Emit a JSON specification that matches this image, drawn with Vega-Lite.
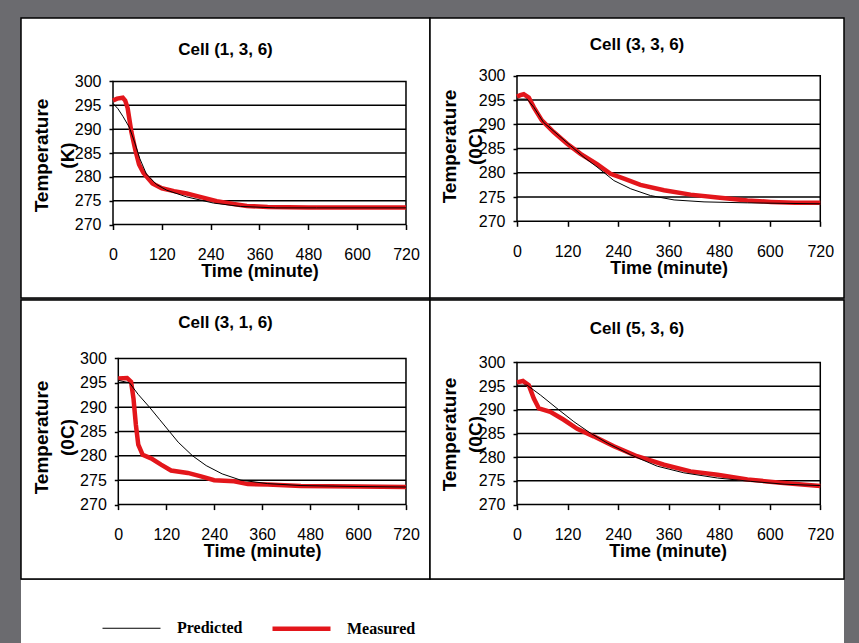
{
  "$schema": "https://vega.github.io/schema/vega-lite/v6.json",
  "background": "#6b6b6f",
  "padding": {"left": 20, "top": 17, "right": 16, "bottom": 0},
  "spacing": 0,
  "datasets": {
    "grid": [{"g": 275}, {"g": 280}, {"g": 285}, {"g": 290}, {"g": 295}],
    "curves": [
      {"p": "a", "s": "Measured", "t": 0, "T": 296.0},
      {"p": "a", "s": "Measured", "t": 10, "T": 296.4},
      {"p": "a", "s": "Measured", "t": 24, "T": 296.6},
      {"p": "a", "s": "Measured", "t": 30, "T": 296.0},
      {"p": "a", "s": "Measured", "t": 36, "T": 294.4},
      {"p": "a", "s": "Measured", "t": 45, "T": 289.5},
      {"p": "a", "s": "Measured", "t": 55, "T": 285.6},
      {"p": "a", "s": "Measured", "t": 64, "T": 282.6},
      {"p": "a", "s": "Measured", "t": 75, "T": 280.8},
      {"p": "a", "s": "Measured", "t": 97, "T": 278.6},
      {"p": "a", "s": "Measured", "t": 120, "T": 277.6},
      {"p": "a", "s": "Measured", "t": 150, "T": 277.0},
      {"p": "a", "s": "Measured", "t": 181, "T": 276.5},
      {"p": "a", "s": "Measured", "t": 214, "T": 275.8},
      {"p": "a", "s": "Measured", "t": 255, "T": 274.9},
      {"p": "a", "s": "Measured", "t": 296, "T": 274.3},
      {"p": "a", "s": "Measured", "t": 329, "T": 273.9},
      {"p": "a", "s": "Measured", "t": 380, "T": 273.7},
      {"p": "a", "s": "Measured", "t": 480, "T": 273.6},
      {"p": "a", "s": "Measured", "t": 600, "T": 273.6},
      {"p": "a", "s": "Measured", "t": 720, "T": 273.6},
      {"p": "a", "s": "Predicted", "t": 0, "T": 295.4},
      {"p": "a", "s": "Predicted", "t": 12, "T": 294.3},
      {"p": "a", "s": "Predicted", "t": 25, "T": 292.6},
      {"p": "a", "s": "Predicted", "t": 40, "T": 290.4},
      {"p": "a", "s": "Predicted", "t": 53, "T": 287.3},
      {"p": "a", "s": "Predicted", "t": 66, "T": 283.8},
      {"p": "a", "s": "Predicted", "t": 82, "T": 280.6},
      {"p": "a", "s": "Predicted", "t": 107, "T": 278.4},
      {"p": "a", "s": "Predicted", "t": 132, "T": 277.2},
      {"p": "a", "s": "Predicted", "t": 181, "T": 275.8},
      {"p": "a", "s": "Predicted", "t": 247, "T": 274.5},
      {"p": "a", "s": "Predicted", "t": 313, "T": 273.8},
      {"p": "a", "s": "Predicted", "t": 400, "T": 273.5},
      {"p": "a", "s": "Predicted", "t": 500, "T": 273.5},
      {"p": "a", "s": "Predicted", "t": 720, "T": 273.5},
      {"p": "b", "s": "Measured", "t": 0, "T": 295.7},
      {"p": "b", "s": "Measured", "t": 8, "T": 296.0},
      {"p": "b", "s": "Measured", "t": 16, "T": 296.2},
      {"p": "b", "s": "Measured", "t": 28, "T": 295.5},
      {"p": "b", "s": "Measured", "t": 40, "T": 293.5},
      {"p": "b", "s": "Measured", "t": 59, "T": 290.8},
      {"p": "b", "s": "Measured", "t": 87, "T": 288.4},
      {"p": "b", "s": "Measured", "t": 119, "T": 286.0},
      {"p": "b", "s": "Measured", "t": 151, "T": 283.9},
      {"p": "b", "s": "Measured", "t": 190, "T": 281.8},
      {"p": "b", "s": "Measured", "t": 222, "T": 279.8},
      {"p": "b", "s": "Measured", "t": 254, "T": 278.8},
      {"p": "b", "s": "Measured", "t": 293, "T": 277.5},
      {"p": "b", "s": "Measured", "t": 349, "T": 276.4},
      {"p": "b", "s": "Measured", "t": 412, "T": 275.5},
      {"p": "b", "s": "Measured", "t": 476, "T": 274.9},
      {"p": "b", "s": "Measured", "t": 547, "T": 274.3},
      {"p": "b", "s": "Measured", "t": 603, "T": 274.0},
      {"p": "b", "s": "Measured", "t": 660, "T": 273.8},
      {"p": "b", "s": "Measured", "t": 720, "T": 273.8},
      {"p": "b", "s": "Predicted", "t": 0, "T": 295.2},
      {"p": "b", "s": "Predicted", "t": 24, "T": 295.2},
      {"p": "b", "s": "Predicted", "t": 40, "T": 293.5},
      {"p": "b", "s": "Predicted", "t": 63, "T": 290.4},
      {"p": "b", "s": "Predicted", "t": 95, "T": 288.0},
      {"p": "b", "s": "Predicted", "t": 127, "T": 285.6},
      {"p": "b", "s": "Predicted", "t": 159, "T": 283.2},
      {"p": "b", "s": "Predicted", "t": 190, "T": 281.2},
      {"p": "b", "s": "Predicted", "t": 230, "T": 278.4},
      {"p": "b", "s": "Predicted", "t": 270, "T": 276.7},
      {"p": "b", "s": "Predicted", "t": 317, "T": 275.3},
      {"p": "b", "s": "Predicted", "t": 373, "T": 274.4},
      {"p": "b", "s": "Predicted", "t": 444, "T": 274.0},
      {"p": "b", "s": "Predicted", "t": 547, "T": 273.8},
      {"p": "b", "s": "Predicted", "t": 720, "T": 273.6},
      {"p": "c", "s": "Measured", "t": 0, "T": 295.9},
      {"p": "c", "s": "Measured", "t": 22, "T": 296.0},
      {"p": "c", "s": "Measured", "t": 32, "T": 295.2},
      {"p": "c", "s": "Measured", "t": 38, "T": 291.8},
      {"p": "c", "s": "Measured", "t": 44, "T": 286.4},
      {"p": "c", "s": "Measured", "t": 50, "T": 282.3},
      {"p": "c", "s": "Measured", "t": 61, "T": 280.2},
      {"p": "c", "s": "Measured", "t": 82, "T": 279.5},
      {"p": "c", "s": "Measured", "t": 107, "T": 278.2},
      {"p": "c", "s": "Measured", "t": 132, "T": 277.0},
      {"p": "c", "s": "Measured", "t": 174, "T": 276.5},
      {"p": "c", "s": "Measured", "t": 207, "T": 275.8},
      {"p": "c", "s": "Measured", "t": 240, "T": 275.0},
      {"p": "c", "s": "Measured", "t": 290, "T": 274.8},
      {"p": "c", "s": "Measured", "t": 324, "T": 274.2},
      {"p": "c", "s": "Measured", "t": 374, "T": 274.1},
      {"p": "c", "s": "Measured", "t": 457, "T": 273.8},
      {"p": "c", "s": "Measured", "t": 600, "T": 273.7},
      {"p": "c", "s": "Measured", "t": 720, "T": 273.6},
      {"p": "c", "s": "Predicted", "t": 0, "T": 295.5},
      {"p": "c", "s": "Predicted", "t": 28, "T": 295.0},
      {"p": "c", "s": "Predicted", "t": 50, "T": 292.6},
      {"p": "c", "s": "Predicted", "t": 78, "T": 290.0},
      {"p": "c", "s": "Predicted", "t": 103, "T": 287.5},
      {"p": "c", "s": "Predicted", "t": 128, "T": 285.0},
      {"p": "c", "s": "Predicted", "t": 150, "T": 282.8},
      {"p": "c", "s": "Predicted", "t": 186, "T": 280.0},
      {"p": "c", "s": "Predicted", "t": 220, "T": 278.0},
      {"p": "c", "s": "Predicted", "t": 260, "T": 276.3},
      {"p": "c", "s": "Predicted", "t": 307, "T": 275.0},
      {"p": "c", "s": "Predicted", "t": 374, "T": 274.3},
      {"p": "c", "s": "Predicted", "t": 457, "T": 273.9},
      {"p": "c", "s": "Predicted", "t": 600, "T": 273.7},
      {"p": "c", "s": "Predicted", "t": 720, "T": 273.6},
      {"p": "d", "s": "Measured", "t": 0, "T": 295.8},
      {"p": "d", "s": "Measured", "t": 14, "T": 296.1},
      {"p": "d", "s": "Measured", "t": 28, "T": 295.2},
      {"p": "d", "s": "Measured", "t": 40, "T": 292.4},
      {"p": "d", "s": "Measured", "t": 52, "T": 290.3},
      {"p": "d", "s": "Measured", "t": 79, "T": 289.6},
      {"p": "d", "s": "Measured", "t": 111, "T": 287.9},
      {"p": "d", "s": "Measured", "t": 143, "T": 286.0},
      {"p": "d", "s": "Measured", "t": 182, "T": 284.4},
      {"p": "d", "s": "Measured", "t": 230, "T": 282.3},
      {"p": "d", "s": "Measured", "t": 285, "T": 280.2},
      {"p": "d", "s": "Measured", "t": 349, "T": 278.4},
      {"p": "d", "s": "Measured", "t": 412, "T": 277.0},
      {"p": "d", "s": "Measured", "t": 476, "T": 276.3},
      {"p": "d", "s": "Measured", "t": 547, "T": 275.3},
      {"p": "d", "s": "Measured", "t": 626, "T": 274.6},
      {"p": "d", "s": "Measured", "t": 720, "T": 273.9},
      {"p": "d", "s": "Predicted", "t": 0, "T": 295.2},
      {"p": "d", "s": "Predicted", "t": 24, "T": 295.2},
      {"p": "d", "s": "Predicted", "t": 56, "T": 293.1},
      {"p": "d", "s": "Predicted", "t": 95, "T": 290.3},
      {"p": "d", "s": "Predicted", "t": 135, "T": 287.5},
      {"p": "d", "s": "Predicted", "t": 174, "T": 285.1},
      {"p": "d", "s": "Predicted", "t": 214, "T": 283.0},
      {"p": "d", "s": "Predicted", "t": 270, "T": 280.5},
      {"p": "d", "s": "Predicted", "t": 333, "T": 278.1},
      {"p": "d", "s": "Predicted", "t": 396, "T": 276.7},
      {"p": "d", "s": "Predicted", "t": 476, "T": 275.6},
      {"p": "d", "s": "Predicted", "t": 555, "T": 274.9},
      {"p": "d", "s": "Predicted", "t": 634, "T": 274.3},
      {"p": "d", "s": "Predicted", "t": 720, "T": 274.0}
    ]
  },
  "vconcat": [
    {
      "hconcat": [
        {
          "width": 409, "height": 280,
          "view": {"fill": "white", "stroke": "black", "strokeWidth": 1.5},
          "title": {"text": "Cell (1, 3, 6)", "offset": -41},
          "layer": [
            {"data": {"name": "grid"}, "mark": {"type": "rule", "color": "black", "strokeWidth": 1.5},
             "encoding": {
               "y": {"field": "g", "type": "quantitative", "scale": {"domain": [254.60, 313.31], "nice": false, "zero": false},
                     "axis": {"values": [270, 275, 280, 285, 290, 295, 300], "offset": -92, "title": ["Temperature", "(K)"], "titleX": -62, "titleY": 137}},
               "x": {"datum": 0, "type": "quantitative", "scale": {"domain": [-226.1, 779.0], "nice": false, "zero": false},
                     "axis": {"values": [0, 120, 240, 360, 480, 600, 720], "offset": -73.5, "title": "Time (minute)", "titleX": 238.5}},
               "x2": {"datum": 720}}},
            {"data": {"values": [{}]}, "mark": {"type": "rect", "fill": "transparent", "stroke": "black", "strokeWidth": 1.5},
             "encoding": {
               "x": {"datum": 0, "type": "quantitative", "scale": {"domain": [-226.1, 779.0], "nice": false, "zero": false}},
               "x2": {"datum": 720},
               "y": {"datum": 270, "type": "quantitative", "scale": {"domain": [254.60, 313.31], "nice": false, "zero": false}},
               "y2": {"datum": 300}}},
            {"data": {"name": "curves"}, "transform": [{"filter": "datum.p === 'a' && datum.s === 'Measured'"}],
             "mark": {"type": "line"},
             "encoding": {
               "x": {"field": "t", "type": "quantitative", "scale": {"domain": [-226.1, 779.0], "nice": false, "zero": false}},
               "y": {"field": "T", "type": "quantitative", "scale": {"domain": [254.60, 313.31], "nice": false, "zero": false}},
               "color": {"field": "s", "type": "nominal", "title": null, "scale": {"domain": ["Predicted", "Measured"], "range": ["#000000", "#e3161b"]}},
               "strokeWidth": {"field": "s", "type": "nominal", "title": null, "scale": {"domain": ["Predicted", "Measured"], "range": [1, 4.5]}}}},
            {"data": {"name": "curves"}, "transform": [{"filter": "datum.p === 'a' && datum.s === 'Predicted'"}],
             "mark": {"type": "line"},
             "encoding": {
               "x": {"field": "t", "type": "quantitative", "scale": {"domain": [-226.1, 779.0], "nice": false, "zero": false}},
               "y": {"field": "T", "type": "quantitative", "scale": {"domain": [254.60, 313.31], "nice": false, "zero": false}},
               "color": {"field": "s", "type": "nominal", "title": null, "scale": {"domain": ["Predicted", "Measured"], "range": ["#000000", "#e3161b"]}},
               "strokeWidth": {"field": "s", "type": "nominal", "title": null, "scale": {"domain": ["Predicted", "Measured"], "range": [1, 4.5]}}}}
          ]
        },
        {
          "width": 414, "height": 280,
          "view": {"fill": "white", "stroke": "black", "strokeWidth": 1.5},
          "title": {"text": "Cell (3, 3, 6)", "offset": -36},
          "layer": [
            {"data": {"name": "grid"}, "mark": {"type": "rule", "color": "black", "strokeWidth": 1.5},
             "encoding": {
               "y": {"field": "g", "type": "quantitative", "scale": {"domain": [254.18, 311.92], "nice": false, "zero": false},
                     "axis": {"values": [270, 275, 280, 285, 290, 295, 300], "offset": -87, "title": ["Temperature", "(0C)"], "titleX": -58, "titleY": 128}},
               "x": {"datum": 0, "type": "quantitative", "scale": {"domain": [-206.5, 776.3], "nice": false, "zero": false},
                     "axis": {"values": [0, 120, 240, 360, 480, 600, 720], "offset": -76.7, "title": "Time (minute)", "titleX": 238.7}},
               "x2": {"datum": 720}}},
            {"data": {"values": [{}]}, "mark": {"type": "rect", "fill": "transparent", "stroke": "black", "strokeWidth": 1.5},
             "encoding": {
               "x": {"datum": 0, "type": "quantitative", "scale": {"domain": [-206.5, 776.3], "nice": false, "zero": false}},
               "x2": {"datum": 720},
               "y": {"datum": 270, "type": "quantitative", "scale": {"domain": [254.18, 311.92], "nice": false, "zero": false}},
               "y2": {"datum": 300}}},
            {"data": {"name": "curves"}, "transform": [{"filter": "datum.p === 'b' && datum.s === 'Measured'"}],
             "mark": {"type": "line"},
             "encoding": {
               "x": {"field": "t", "type": "quantitative", "scale": {"domain": [-206.5, 776.3], "nice": false, "zero": false}},
               "y": {"field": "T", "type": "quantitative", "scale": {"domain": [254.18, 311.92], "nice": false, "zero": false}},
               "color": {"field": "s", "type": "nominal", "title": null, "scale": {"domain": ["Predicted", "Measured"], "range": ["#000000", "#e3161b"]}},
               "strokeWidth": {"field": "s", "type": "nominal", "title": null, "scale": {"domain": ["Predicted", "Measured"], "range": [1, 4.5]}}}},
            {"data": {"name": "curves"}, "transform": [{"filter": "datum.p === 'b' && datum.s === 'Predicted'"}],
             "mark": {"type": "line"},
             "encoding": {
               "x": {"field": "t", "type": "quantitative", "scale": {"domain": [-206.5, 776.3], "nice": false, "zero": false}},
               "y": {"field": "T", "type": "quantitative", "scale": {"domain": [254.18, 311.92], "nice": false, "zero": false}},
               "color": {"field": "s", "type": "nominal", "title": null, "scale": {"domain": ["Predicted", "Measured"], "range": ["#000000", "#e3161b"]}},
               "strokeWidth": {"field": "s", "type": "nominal", "title": null, "scale": {"domain": ["Predicted", "Measured"], "range": [1, 4.5]}}}}
          ]
        }
      ],
      "spacing": 0,
      "bounds": "flush"
    },
    {
      "hconcat": [
        {
          "width": 409, "height": 279,
          "view": {"fill": "white", "stroke": "black", "strokeWidth": 1.5},
          "title": {"text": "Cell (3, 1, 6)", "offset": -32},
          "layer": [
            {"data": {"name": "grid"}, "mark": {"type": "rule", "color": "black", "strokeWidth": 1.5},
             "encoding": {
               "y": {"field": "g", "type": "quantitative", "scale": {"domain": [254.71, 312.01], "nice": false, "zero": false},
                     "axis": {"values": [270, 275, 280, 285, 290, 295, 300], "offset": -97.3, "title": ["Temperature", "(0C)"], "titleX": -67, "titleY": 137}},
               "x": {"datum": 0, "type": "quantitative", "scale": {"domain": [-243.5, 780.1], "nice": false, "zero": false},
                     "axis": {"values": [0, 120, 240, 360, 480, 600, 720], "offset": -74.4, "title": "Time (minute)", "titleX": 241.2}},
               "x2": {"datum": 720}}},
            {"data": {"values": [{}]}, "mark": {"type": "rect", "fill": "transparent", "stroke": "black", "strokeWidth": 1.5},
             "encoding": {
               "x": {"datum": 0, "type": "quantitative", "scale": {"domain": [-243.5, 780.1], "nice": false, "zero": false}},
               "x2": {"datum": 720},
               "y": {"datum": 270, "type": "quantitative", "scale": {"domain": [254.71, 312.01], "nice": false, "zero": false}},
               "y2": {"datum": 300}}},
            {"data": {"name": "curves"}, "transform": [{"filter": "datum.p === 'c' && datum.s === 'Measured'"}],
             "mark": {"type": "line"},
             "encoding": {
               "x": {"field": "t", "type": "quantitative", "scale": {"domain": [-243.5, 780.1], "nice": false, "zero": false}},
               "y": {"field": "T", "type": "quantitative", "scale": {"domain": [254.71, 312.01], "nice": false, "zero": false}},
               "color": {"field": "s", "type": "nominal", "title": null, "scale": {"domain": ["Predicted", "Measured"], "range": ["#000000", "#e3161b"]}},
               "strokeWidth": {"field": "s", "type": "nominal", "title": null, "scale": {"domain": ["Predicted", "Measured"], "range": [1, 4.5]}}}},
            {"data": {"name": "curves"}, "transform": [{"filter": "datum.p === 'c' && datum.s === 'Predicted'"}],
             "mark": {"type": "line"},
             "encoding": {
               "x": {"field": "t", "type": "quantitative", "scale": {"domain": [-243.5, 780.1], "nice": false, "zero": false}},
               "y": {"field": "T", "type": "quantitative", "scale": {"domain": [254.71, 312.01], "nice": false, "zero": false}},
               "color": {"field": "s", "type": "nominal", "title": null, "scale": {"domain": ["Predicted", "Measured"], "range": ["#000000", "#e3161b"]}},
               "strokeWidth": {"field": "s", "type": "nominal", "title": null, "scale": {"domain": ["Predicted", "Measured"], "range": [1, 4.5]}}}}
          ]
        },
        {
          "width": 414, "height": 279,
          "view": {"fill": "white", "stroke": "black", "strokeWidth": 1.5},
          "title": {"text": "Cell (5, 3, 6)", "offset": -38},
          "layer": [
            {"data": {"name": "grid"}, "mark": {"type": "rule", "color": "black", "strokeWidth": 1.5},
             "encoding": {
               "y": {"field": "g", "type": "quantitative", "scale": {"domain": [254.28, 313.19], "nice": false, "zero": false},
                     "axis": {"values": [270, 275, 280, 285, 290, 295, 300], "offset": -87, "title": ["Temperature", "(0C)"], "titleX": -58, "titleY": 134}},
               "x": {"datum": 0, "type": "quantitative", "scale": {"domain": [-206.5, 776.3], "nice": false, "zero": false},
                     "axis": {"values": [0, 120, 240, 360, 480, 600, 720], "offset": -74.4, "title": "Time (minute)", "titleX": 237.7}},
               "x2": {"datum": 720}}},
            {"data": {"values": [{}]}, "mark": {"type": "rect", "fill": "transparent", "stroke": "black", "strokeWidth": 1.5},
             "encoding": {
               "x": {"datum": 0, "type": "quantitative", "scale": {"domain": [-206.5, 776.3], "nice": false, "zero": false}},
               "x2": {"datum": 720},
               "y": {"datum": 270, "type": "quantitative", "scale": {"domain": [254.28, 313.19], "nice": false, "zero": false}},
               "y2": {"datum": 300}}},
            {"data": {"name": "curves"}, "transform": [{"filter": "datum.p === 'd' && datum.s === 'Measured'"}],
             "mark": {"type": "line"},
             "encoding": {
               "x": {"field": "t", "type": "quantitative", "scale": {"domain": [-206.5, 776.3], "nice": false, "zero": false}},
               "y": {"field": "T", "type": "quantitative", "scale": {"domain": [254.28, 313.19], "nice": false, "zero": false}},
               "color": {"field": "s", "type": "nominal", "title": null, "scale": {"domain": ["Predicted", "Measured"], "range": ["#000000", "#e3161b"]}},
               "strokeWidth": {"field": "s", "type": "nominal", "title": null, "scale": {"domain": ["Predicted", "Measured"], "range": [1, 4.5]}}}},
            {"data": {"name": "curves"}, "transform": [{"filter": "datum.p === 'd' && datum.s === 'Predicted'"}],
             "mark": {"type": "line"},
             "encoding": {
               "x": {"field": "t", "type": "quantitative", "scale": {"domain": [-206.5, 776.3], "nice": false, "zero": false}},
               "y": {"field": "T", "type": "quantitative", "scale": {"domain": [254.28, 313.19], "nice": false, "zero": false}},
               "color": {"field": "s", "type": "nominal", "title": null, "scale": {"domain": ["Predicted", "Measured"], "range": ["#000000", "#e3161b"]}},
               "strokeWidth": {"field": "s", "type": "nominal", "title": null, "scale": {"domain": ["Predicted", "Measured"], "range": [1, 4.5]}}}}
          ]
        }
      ],
      "spacing": 0,
      "bounds": "flush"
    },
    {
      "width": 823, "height": 67,
      "view": {"fill": "white", "stroke": null},
      "data": {"values": [{}]},
      "mark": {"type": "text", "text": ""},
      "encoding": {}
    }
  ],
  "config": {
    "font": "Liberation Sans",
    "view": {"stroke": null},
    "axis": {
      "domain": false, "grid": false,
      "labelFont": "Liberation Sans", "labelFontSize": 16, "labelColor": "black",
      "tickColor": "black", "tickWidth": 1.5,
      "titleFont": "Liberation Sans", "titleFontSize": 18, "titleFontWeight": "bold", "titleColor": "black",
      "labelFlush": false, "labelOverlap": false, "format": "d"
    },
    "axisX": {"tickSize": 5, "labelPadding": 17, "titlePadding": 0},
    "axisY": {"tickSize": 4, "labelPadding": 8, "titleLineHeight": 26, "titleFontSize": 19},
    "title": {"font": "Liberation Sans", "fontSize": 17, "fontWeight": "bold", "color": "black", "anchor": "middle", "frame": "group", "baseline": "alphabetic"},
    "legend": {
      "orient": "none", "legendX": 79, "legendY": 579, "direction": "horizontal", "columns": 2,
      "symbolType": "stroke", "symbolSize": 3364, "labelOffset": 14, "columnPadding": 20, "padding": 0,
      "labelFont": "Liberation Serif", "labelFontSize": 16, "labelFontWeight": "bold", "labelColor": "black"
    }
  }
}
